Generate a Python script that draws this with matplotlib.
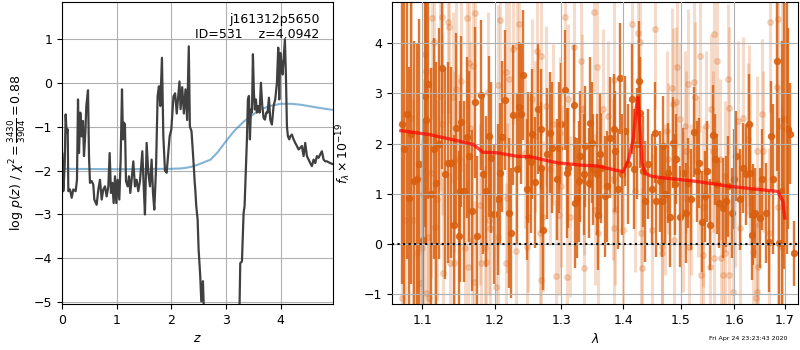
import matplotlib
matplotlib.use('Agg')
import matplotlib.pyplot as plt
from matplotlib.ticker import FixedLocator, FormatStrFormatter, NullLocator

plt.rcParams['font.size'] = 9

# redshift probability: log p(z)
z_grid = [0.000, 0.006, 0.024, 0.049, 0.067, 0.085, 0.104, 0.116, 0.146, 0.177,
          0.207, 0.250, 0.274, 0.293, 0.311, 0.335, 0.360, 0.384, 0.402, 0.427,
          0.445, 0.476, 0.494, 0.512, 0.543, 0.573, 0.591, 0.634, 0.665, 0.695,
          0.726, 0.756, 0.787, 0.817, 0.848, 0.872, 0.896, 0.921, 0.945, 0.970,
          0.994, 1.018, 1.049, 1.073, 1.098, 1.116, 1.134, 1.152, 1.171, 1.201,
          1.226, 1.250, 1.274, 1.305, 1.335, 1.366, 1.396, 1.427, 1.470, 1.494,
          1.518, 1.549, 1.579, 1.610, 1.640, 1.665, 1.689, 1.720, 1.750, 1.774,
          1.799, 1.829, 1.854, 1.884, 1.915, 1.945, 1.970, 2.000, 2.040, 2.070,
          2.100, 2.150, 2.170, 2.200, 2.230, 2.260, 2.290, 2.320, 2.340, 2.370,
          2.409, 2.427, 2.439, 2.457, 2.482, 2.500, 2.530, 2.549,
          2.567, 2.579, 2.591, 2.604, 2.650, 2.900, 3.100, 3.200, 3.232, 3.250,
          3.262, 3.293, 3.323, 3.341, 3.366, 3.384, 3.402, 3.421, 3.439, 3.457,
          3.476, 3.494, 3.512, 3.530, 3.549, 3.567, 3.591, 3.616, 3.640, 3.665,
          3.689, 3.713, 3.738, 3.762, 3.787, 3.811, 3.841, 3.872, 3.902, 3.933,
          3.957, 3.976, 3.994, 4.018, 4.037, 4.055, 4.079, 4.098, 4.116, 4.134,
          4.159, 4.177, 4.207, 4.238, 4.268, 4.299, 4.329, 4.360, 4.390, 4.421,
          4.451, 4.482, 4.512, 4.543, 4.573, 4.604, 4.634, 4.665, 4.695, 4.726,
          4.756, 4.787, 4.817, 4.848, 4.909, 4.970]
log_pz = [-1.60, -1.60, -2.47, -1.90, -0.72, -1.14, -1.06, -2.47, -2.43, -2.62,
          -2.43, -2.47, -2.21, -0.38, -1.60, -0.68, -1.22, -0.87, -1.67, -1.14,
          -0.53, -0.17, -1.67, -2.28, -2.24, -2.32, -2.66, -2.78, -2.43, -2.21,
          -2.66, -2.43, -2.36, -2.59, -2.36, -1.60, -2.51, -2.28, -2.74, -2.13,
          -2.74, -2.21, -2.66, -1.75, -0.15, -1.29, -0.91, -0.95, -2.24, -2.36,
          -2.13, -2.51, -2.21, -1.79, -2.36, -2.21, -2.47, -2.24, -1.56, -2.32,
          -3.00, -1.37, -2.05, -2.36, -1.75, -2.51, -2.89, -1.98, -0.30, -0.08,
          -0.53, 0.57, -1.20, -2.00, -2.05, -1.60, -1.22, -1.07, -0.31, -0.24,
          -0.70, 0.03, -0.60, -0.10, -0.70, -0.15, -0.85, 0.83, -1.00, -1.10,
          -1.85, -2.24, -2.43, -2.81, -3.12, -3.80, -4.41, -4.98,
          -4.71, -4.52, -5.02, -5.50, -6.00, -7.50, -6.80, -5.60, -5.50, -5.02,
          -4.11, -4.07, -2.97, -2.81, -1.90, -1.29, -0.38, -0.30, -1.29, -0.61,
          -0.68, 0.65, -0.23, -0.61, -0.38, -0.68, -0.53, -0.68, 0.00, -0.53,
          -0.80, -0.84, -0.68, -0.68, -0.34, -0.84, -0.95, -0.53, -0.38, 0.00,
          0.80, -0.38, 0.68, 0.42, 0.19, 0.53, 0.99, 0.15, -0.99, -1.22,
          -1.29, -1.22, -1.18, -1.29, -1.37, -1.44, -1.52, -1.48, -1.44, -1.67,
          -1.37, -1.67, -1.75, -1.83, -1.90, -1.75, -1.83, -1.67, -1.71, -1.63,
          -1.56, -1.75, -1.79, -1.79, -1.83, -1.86]

# prior / chi2 curve
prior_z = [0.0, 1.0, 2.0, 2.2, 2.35, 2.5, 2.72, 2.85, 3.02, 3.15, 3.33, 3.5,
           3.63, 3.8, 4.0, 4.2, 4.37, 4.6, 4.8, 4.97]
prior_val = [-1.96, -1.97, -1.96, -1.95, -1.92, -1.86, -1.75, -1.58, -1.30, -1.10,
             -0.88, -0.72, -0.61, -0.53, -0.48, -0.48, -0.50, -0.55, -0.59, -0.62]

# 1D spectrum, binned (dark) and unbinned (light)
dark_wave = [1.073, 1.076, 1.080, 1.083, 1.085, 1.089, 1.093, 1.096, 1.101, 1.104,
             1.105, 1.108, 1.111, 1.115, 1.118, 1.122, 1.126, 1.130, 1.134, 1.139,
             1.142, 1.146, 1.149, 1.151, 1.152, 1.157, 1.161, 1.164, 1.168, 1.172,
             1.175, 1.180, 1.183, 1.188, 1.191, 1.195, 1.199, 1.204, 1.208, 1.211,
             1.215, 1.220, 1.223, 1.227, 1.232, 1.235, 1.238, 1.242, 1.247, 1.249,
             1.253, 1.255, 1.259, 1.264, 1.268, 1.269, 1.272, 1.277, 1.282, 1.285,
             1.293, 1.296, 1.300, 1.306, 1.308, 1.311, 1.319, 1.321, 1.324, 1.327,
             1.329, 1.335, 1.337, 1.343, 1.345, 1.348, 1.351, 1.356, 1.358, 1.362,
             1.364, 1.370, 1.373, 1.378, 1.384, 1.386, 1.391, 1.395, 1.398, 1.403,
             1.408, 1.415, 1.419, 1.424, 1.427, 1.429, 1.434, 1.437, 1.443, 1.449,
             1.455, 1.457, 1.464, 1.466, 1.468, 1.473, 1.478, 1.481, 1.486, 1.490,
             1.492, 1.499, 1.505, 1.510, 1.514, 1.519, 1.525, 1.530, 1.534, 1.539,
             1.545, 1.549, 1.554, 1.560, 1.564, 1.567, 1.571, 1.578, 1.584, 1.588,
             1.595, 1.600, 1.604, 1.611, 1.617, 1.622, 1.629, 1.631, 1.634, 1.637,
             1.640, 1.649, 1.653, 1.662, 1.667, 1.671, 1.676, 1.683, 1.689, 1.694,
             1.699, 1.704, 1.707, 1.711, 1.718]
dark_flux = [2.40, 1.90, 2.60, 0.92, 2.20, 1.25, 1.30, 1.59, 0.09, 2.95,
             2.48, 3.19, 1.00, 1.90, 1.22, 2.00, 3.50, 1.40, 1.62, 1.62,
             0.38, 2.31, 0.16, 1.05, 2.44, 1.05, 2.13, 1.75, 0.67, 2.82,
             0.16, 2.97, 1.40, 1.05, 2.15, 1.72, 0.60, 0.89, 1.41, 2.14,
             2.87, 0.62, 0.22, 2.57, 1.50, 2.73, 2.59, 3.37, 1.09, 1.73,
             1.63, 2.19, 1.23, 2.70, 2.29, 1.52, 0.29, 1.80, 2.22, 1.92,
             1.29, 1.92, 2.40, 3.07, 1.42, 1.52, 2.77, 0.83, 0.92, 1.25,
             1.75, 1.39, 1.95, 1.22, 2.42, 2.02, 1.49, 1.39, 0.59, 1.79,
             1.52, 0.95, 1.15, 2.12, 2.29, 1.85, 1.10, 3.30, 1.39, 2.25,
             1.60, 2.89, 1.50, 2.00, 3.25, 2.62, 1.45, 0.85, 1.60, 1.09,
             2.22, 0.85, 1.25, 0.85, 1.95, 1.00, 1.42, 0.55, 2.02, 1.19,
             1.70, 0.55, 1.42, 0.62, 1.22, 0.89, 2.23, 1.45, 1.62, 0.45,
             0.95, 1.45, 0.39, 2.17, 1.69, 1.20, 0.82, 0.72, 0.85, 1.15,
             0.62, 1.30, 1.75, 0.89, 1.52, 1.39, 2.39, 1.42, 0.19, 0.59,
             0.62, 0.52, 1.29, 0.62, 0.05, 2.15, 1.30, 3.65, 0.02, 1.05,
             2.50, 2.30, 2.30, 2.20, -0.18]
dark_err = [3.2, 3.3, 2.9, 2.6, 3.0, 2.8, 2.7, 2.9, 2.4, 2.6,
            2.5, 2.3, 2.5, 2.2, 2.4, 2.3, 2.0, 2.1, 2.0, 1.9,
            1.8, 1.9, 1.7, 1.8, 1.7, 1.8, 1.6, 1.7, 1.6, 1.5,
            1.6, 1.5, 1.6, 1.5, 1.6, 1.5, 1.4, 1.5, 1.4, 1.5,
            1.4, 1.5, 1.3, 1.4, 1.5, 1.3, 1.4, 1.3, 1.4, 1.3,
            1.4, 1.3, 1.3, 1.3, 1.2, 1.3, 1.2, 1.3, 1.2, 1.3,
            1.2, 1.3, 1.2, 1.2, 1.3, 1.2, 1.2, 1.3, 1.2, 1.2,
            1.3, 1.2, 1.2, 1.1, 1.3, 1.2, 1.1, 1.2, 1.1, 1.2,
            1.1, 1.2, 1.1, 1.2, 1.1, 1.2, 1.2, 1.1, 1.2, 1.1,
            1.2, 1.1, 1.2, 1.1, 1.2, 1.1, 1.1, 1.2, 1.1, 1.1,
            1.0, 1.1, 1.0, 1.1, 1.0, 1.0, 1.0, 1.0, 0.9, 1.0,
            0.9, 1.0, 0.9, 1.0, 0.9, 1.0, 0.9, 1.0, 0.9, 1.0,
            0.9, 1.0, 0.9, 1.0, 0.9, 1.0, 0.9, 1.0, 0.9, 1.0,
            0.9, 1.0, 0.9, 1.0, 0.9, 1.0, 1.0, 0.9, 0.9, 1.0,
            0.9, 1.0, 1.0, 1.0, 1.0, 1.1, 1.5, 2.2, 2.5, 3.0,
            3.0, 2.5, 2.0, 1.0, 0.65]

light_wave = [1.073, 1.077, 1.085, 1.088, 1.093, 1.097, 1.099, 1.101, 1.104, 1.1045,
              1.105, 1.108, 1.109, 1.112, 1.113, 1.115, 1.117, 1.119, 1.124, 1.126,
              1.127, 1.128, 1.134, 1.136, 1.137, 1.141, 1.142, 1.143, 1.145, 1.149,
              1.153, 1.158, 1.160, 1.162, 1.164, 1.165, 1.167, 1.169, 1.170, 1.172,
              1.179, 1.181, 1.186, 1.188, 1.190, 1.191, 1.193, 1.202, 1.204, 1.205,
              1.208, 1.216, 1.217, 1.218, 1.220, 1.227, 1.231, 1.232, 1.235, 1.244,
              1.247, 1.249, 1.255, 1.259, 1.263, 1.267, 1.268, 1.269, 1.272, 1.276,
              1.282, 1.287, 1.291, 1.296, 1.298, 1.300, 1.306, 1.309, 1.311, 1.314,
              1.320, 1.331, 1.332, 1.335, 1.336, 1.352, 1.354, 1.356, 1.359, 1.367,
              1.375, 1.383, 1.384, 1.385, 1.387, 1.400, 1.415, 1.420, 1.426, 1.429,
              1.431, 1.432, 1.449, 1.455, 1.466, 1.467, 1.472, 1.475, 1.478, 1.484,
              1.487, 1.488, 1.492, 1.494, 1.499, 1.505, 1.508, 1.509, 1.514, 1.515,
              1.519, 1.525, 1.526, 1.532, 1.536, 1.537, 1.540, 1.541, 1.547, 1.554,
              1.555, 1.560, 1.561, 1.562, 1.567, 1.573, 1.574, 1.579, 1.582, 1.583,
              1.588, 1.589, 1.590, 1.598, 1.602, 1.607, 1.611, 1.617, 1.627, 1.629,
              1.631, 1.637, 1.642, 1.644, 1.645, 1.646, 1.653, 1.656, 1.667, 1.670,
              1.683, 1.686, 1.687, 1.694, 1.695]
light_flux = [-1.08, 0.49, 2.52, 0.49, -0.18, -0.78, -0.08, 0.99, 3.79, -0.98,
              3.45, 0.15, -1.08, 1.42, 4.50, 4.02, 0.35, 0.89, 2.95, 4.52,
              2.39, -0.58, 4.42, 4.32, -0.38, 2.92, 1.65, -0.38, 3.09, 1.69,
              3.25, -0.08, 4.50, -0.45, 3.60, 2.32, 0.09, 3.55, -0.75, 4.60,
              0.79, -0.38, -0.05, -0.35, 3.02, 0.49, 0.32, -0.85, 3.17, 0.15,
              4.47, 3.42, -0.38, 0.92, 3.29, 3.89, -0.13, 3.95, 4.39, 1.82,
              -0.06, 0.55, 2.89, 2.15, 3.85, 0.22, 3.75, -0.71, 0.55, 2.75,
              1.49, 2.39, -0.63, 0.59, 2.22, 1.15, 4.52, -0.65, 2.89, 0.55,
              3.93, 3.64, 2.69, -0.48, 1.29, 4.62, 0.69, 3.53, 0.22, 2.69,
              2.55, 1.29, 0.32, 3.27, 0.69, 0.29, 4.39, 1.05, 4.20, 4.03,
              0.22, -0.48, 0.29, 4.29, -0.18, -0.05, 0.89, 2.25, 1.70, 3.10,
              2.80, 0.09, 2.82, 3.52, 2.50, 0.65, 2.35, 1.85, 3.19, -0.05,
              0.89, 3.23, 2.92, 1.35, 3.74, -0.61, -0.21, 0.75, 2.35, -0.45,
              2.69, 1.85, -0.28, 4.19, 3.65, 1.69, -0.28, -0.61, 1.35, -0.18,
              3.29, 2.72, -0.61, -0.95, 1.05, 2.45, 0.32, 2.52, 2.10, 2.37,
              1.49, -0.15, -1.08, -0.95, 1.85, -0.45, 2.59, 1.85, 0.22, 4.43,
              3.12, 4.49, 0.75, 2.35, -0.05]
light_err = [2.8, 2.6, 2.5, 2.4, 2.4, 2.3, 2.2, 2.3, 2.2, 2.1,
             2.2, 2.0, 2.2, 2.1, 2.0, 2.1, 1.9, 2.0, 1.9, 1.9,
             1.8, 1.9, 1.8, 1.9, 1.8, 1.7, 1.8, 1.7, 1.8, 1.7,
             1.8, 1.7, 1.8, 1.7, 1.6, 1.7, 1.6, 1.7, 1.6, 1.7,
             1.6, 1.7, 1.6, 1.5, 1.6, 1.5, 1.6, 1.5, 1.6, 1.5,
             1.6, 1.5, 1.6, 1.5, 1.6, 1.5, 1.6, 1.5, 1.6, 1.5,
             1.6, 1.5, 1.6, 1.5, 1.6, 1.5, 1.6, 1.5, 1.5, 1.6,
             1.5, 1.6, 1.5, 1.6, 1.5, 1.6, 1.5, 1.6, 1.5, 1.6,
             1.5, 1.6, 1.5, 1.6, 1.5, 1.6, 1.5, 1.6, 1.5, 1.6,
             1.5, 1.6, 1.5, 1.6, 1.5, 1.6, 1.5, 1.6, 1.5, 1.6,
             1.5, 1.6, 1.5, 1.6, 1.5, 1.6, 1.5, 1.6, 1.5, 1.6,
             1.5, 1.6, 1.5, 1.6, 1.5, 1.6, 1.5, 1.6, 1.5, 1.6,
             1.5, 1.6, 1.5, 1.6, 1.5, 1.6, 1.5, 1.6, 1.5, 1.6,
             1.5, 1.6, 1.5, 1.6, 1.5, 1.6, 1.5, 1.6, 1.5, 1.6,
             1.5, 1.6, 1.5, 1.6, 1.5, 1.6, 1.5, 1.6, 1.5, 1.6,
             1.5, 1.6, 1.5, 1.6, 1.5, 1.6, 1.5, 1.6, 1.7, 1.8,
             2.0, 2.2, 2.4, 2.6, 2.8]

# best-fit template
model_wave = [1.072, 1.110, 1.150, 1.170, 1.183, 1.203, 1.232, 1.252, 1.293, 1.334,
              1.356, 1.400, 1.409, 1.417, 1.422, 1.425, 1.429, 1.432, 1.437, 1.449,
              1.469, 1.529, 1.592, 1.656, 1.686, 1.696, 1.700]
model_flux = [2.26, 2.18, 2.05, 1.98, 1.83, 1.82, 1.75, 1.74, 1.62, 1.57,
              1.56, 1.44, 1.68, 2.08, 2.70, 2.92, 2.25, 1.62, 1.41, 1.35,
              1.32, 1.25, 1.15, 1.08, 1.05, 0.85, 0.52]

orange = '#d95f0e'

fig = plt.figure(figsize=(8, 3.5), dpi=100)
ax1 = fig.add_axes([0.0775, 0.1314, 0.3388, 0.8629])
ax2 = fig.add_axes([0.49, 0.1314, 0.5075, 0.8629])

# p(z) panel
ax1.plot(prior_z, prior_val, color='tab:blue', alpha=0.55, lw=1.5)
ax1.plot(z_grid, log_pz, color='0.25', lw=1.6)
ax1.set_xlim(0, 4.96)
ax1.set_ylim(-5.04, 1.84)
ax1.set_xticks([0, 1, 2, 3, 4])
ax1.set_yticks([-5, -4, -3, -2, -1, 0, 1])
ax1.grid(True)
ax1.set_xlabel('$z$')
ax1.set_ylabel(r'$\log\,p(z)$ / $\chi^2=\frac{3430}{3904}=0.88$')
ax1.text(0.95, 0.965, 'j161312p5650\nID=531    z=4.0942', transform=ax1.transAxes,
         ha='right', va='top', multialignment='right', fontsize=9)

# spectrum panel
ax2.errorbar(light_wave, light_flux, yerr=light_err, fmt='o', color=orange,
             alpha=0.22, ms=4, elinewidth=2.2, capsize=0, zorder=1)
ax2.errorbar(dark_wave, dark_flux, yerr=dark_err, fmt='o', color=orange,
             alpha=0.85, ms=4.3, elinewidth=1.7, capsize=0, zorder=2)
ax2.plot(model_wave, model_flux, color='red', alpha=0.7, lw=2.4, zorder=3)
ax2.axhline(0, color='k', ls=':', lw=1.5, zorder=4)
ax2.set_xscale('log')
ax2.set_xlim(1.0607, 1.727)
ax2.set_ylim(-1.19, 4.82)
ax2.xaxis.set_major_locator(FixedLocator([1.1, 1.2, 1.3, 1.4, 1.5, 1.6, 1.7]))
ax2.xaxis.set_major_formatter(FormatStrFormatter('%.1f'))
ax2.xaxis.set_minor_locator(NullLocator())
ax2.set_yticks([-1, 0, 1, 2, 3, 4])
ax2.set_axisbelow(False)
ax2.grid(True)
ax2.set_xlabel(r'$\lambda$')
ax2.set_ylabel(r'$f_\lambda\times10^{-19}$', labelpad=8)

fig.text(0.984, 0.028, 'Fri Apr 24 23:23:43 2020', ha='right', fontsize=4.5)

fig.savefig('out.png', dpi=100)
